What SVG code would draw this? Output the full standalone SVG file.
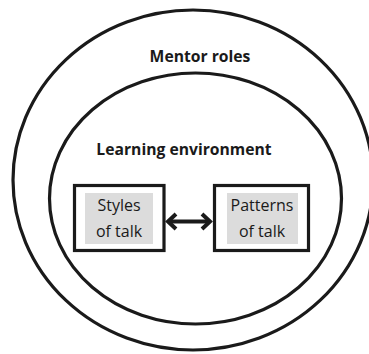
<svg xmlns="http://www.w3.org/2000/svg" width="369" height="354" viewBox="0 0 369 354">
  <style>
    .ring { fill: none; stroke: #1a1a1a; stroke-width: 3.2; }
    .box { fill: #ffffff; stroke: #1a1a1a; stroke-width: 3.2; }
    .inner { fill: #dcdcdc; stroke: none; }
    .title { font-family: "Open Sans", "Liberation Sans", sans-serif; font-weight: bold; font-size: 15.7px; fill: #1a1a1a; text-anchor: middle; }
    .label { font-family: "Open Sans", "Liberation Sans", sans-serif; font-size: 16px; fill: #1a1a1a; text-anchor: middle; }
    .link { fill: none; stroke: #1a1a1a; stroke-width: 4; stroke-linecap: butt; }
    .head { fill: none; stroke: #1a1a1a; stroke-width: 4; stroke-linejoin: miter; }
  </style>
  <rect width="369" height="354" fill="#ffffff"/>

  <g id="mentor-roles">
    <ellipse class="ring" cx="193" cy="180" rx="180" ry="170"/>
    <text class="title" x="200" y="62">Mentor roles</text>
  </g>

  <g id="learning-environment">
    <ellipse class="ring" cx="195.5" cy="198.5" rx="146" ry="125.5"/>
    <text class="title" x="184" y="155">Learning environment</text>
  </g>

  <g id="styles-of-talk">
    <rect class="box" x="74.5" y="185.5" width="89.5" height="65"/>
    <rect class="inner" x="85" y="193" width="68" height="51"/>
    <text class="label" x="119" y="210.5">Styles</text>
    <text class="label" x="119" y="236.5">of talk</text>
  </g>

  <g id="patterns-of-talk">
    <rect class="box" x="214.5" y="185.5" width="94" height="65"/>
    <rect class="inner" x="227" y="193" width="71" height="51"/>
    <text class="label" x="262" y="210.5">Patterns</text>
    <text class="label" x="262" y="236.5">of talk</text>
  </g>

  <g id="connectors">
    <line class="link" x1="168" y1="221.5" x2="210" y2="221.5"/>
    <polyline class="head" points="176,214 168,221.5 176,229"/>
    <polyline class="head" points="202,214 210,221.5 202,229"/>
  </g>
</svg>
